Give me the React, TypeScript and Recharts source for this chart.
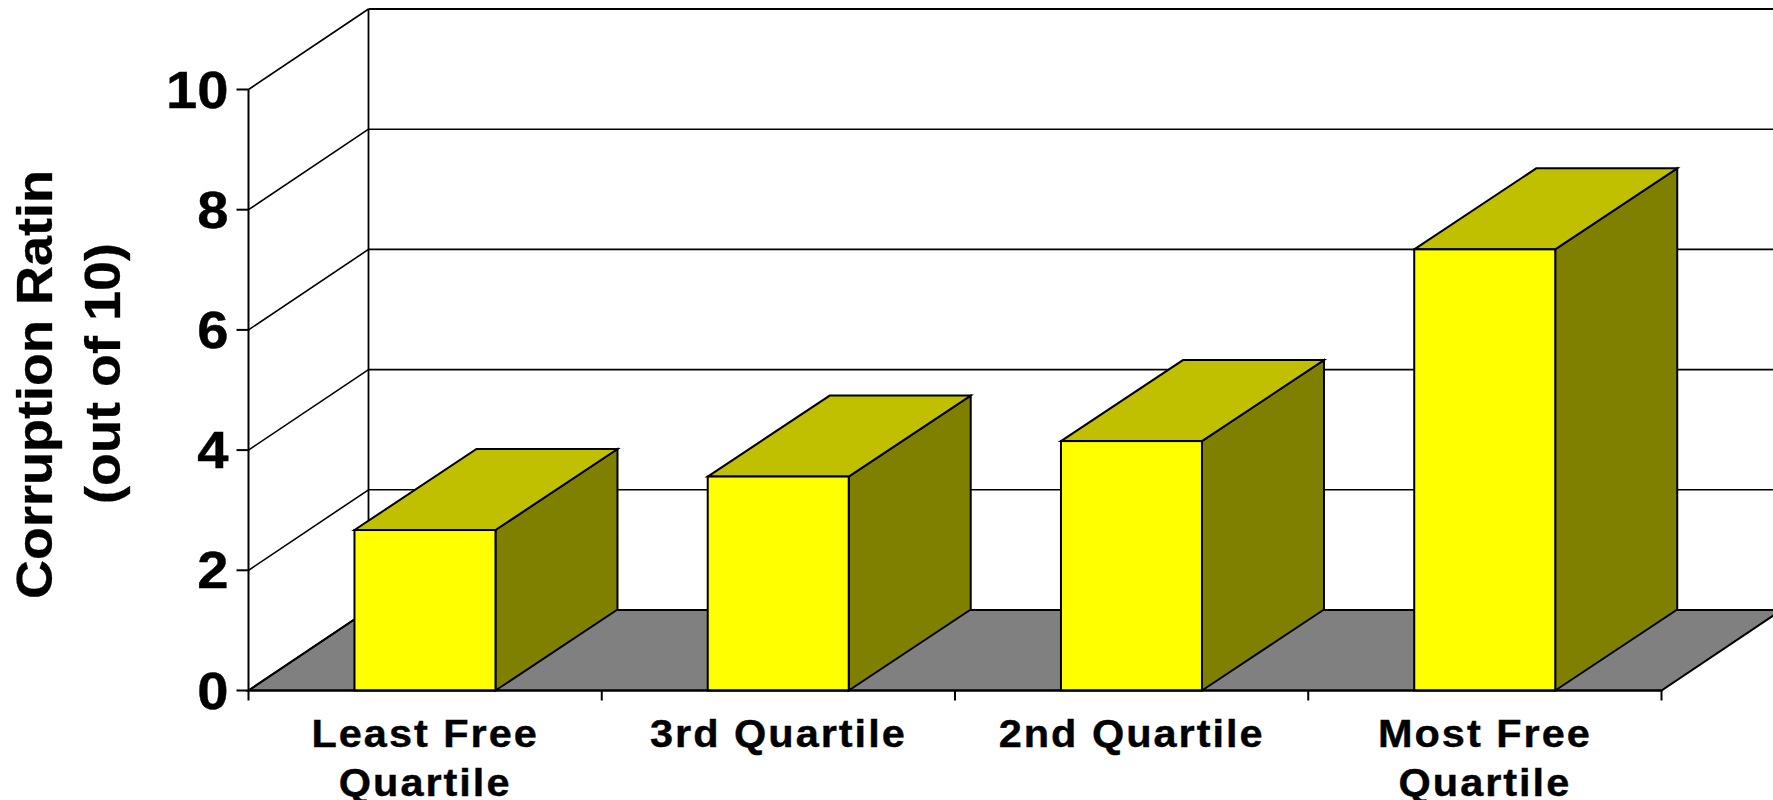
import React from 'react';
import { BarChart, Bar, XAxis, YAxis, CartesianGrid } from 'recharts';

const categories = ['Least Free|Quartile', '3rd Quartile', '2nd Quartile', 'Most Free|Quartile'];
const ratings = [2.67, 3.56, 4.15, 7.34];
const yTicks = [0, 2, 4, 6, 8, 10];
const titleLines = ['Corruption Ratin', '(out of 10)'];

const rows = categories.map((category, i) => ({ category, rating: ratings[i] }));

const FONT = '"Liberation Sans", Arial, sans-serif';
const WIDTH = 1773;
const HEIGHT = 800;
const DEPTH_X = 120;
const DEPTH_Y = -80.5;
const BAR_DEPTH_X = 122;
const BAR_DEPTH_Y = -81;

// Back wall, side wall and floor of the 3D frame, hung off each horizontal grid line.
function gridLine(props: any) {
  const { x1, x2, y1, index, y: top, height } = props;
  const bottom = top + height;
  const backX = x1 + DEPTH_X;
  const backY = y1 + DEPTH_Y;
  const isFloor = Math.abs(y1 - bottom) < 0.5;
  const isTop = Math.abs(y1 - top) < 0.5;
  const heavy = isFloor || isTop ? 2 : 1.6;
  return (
    <g key={`wall-${index}`}>
      {isFloor && (
        <polygon
          points={`${x1},${y1} ${backX},${backY} ${x2 + DEPTH_X},${backY} ${x2},${y1}`}
          fill="#808080"
          stroke="#000"
          strokeWidth={2}
        />
      )}
      {isTop && (
        <line x1={backX} y1={backY} x2={backX} y2={bottom + DEPTH_Y} stroke="#000" strokeWidth={1.8} />
      )}
      <line x1={x1} y1={y1} x2={backX} y2={backY} stroke="#000" strokeWidth={1.6} />
      <line x1={backX} y1={backY} x2={x2 + DEPTH_X + 200} y2={backY} stroke="#000" strokeWidth={heavy} />
    </g>
  );
}

// A bar as a box: front face from the scale, with top and side faces receding.
function Box(props: any) {
  const { x, y, width, height } = props;
  const r = x + width;
  const b = y + height;
  const dx = BAR_DEPTH_X;
  const dy = BAR_DEPTH_Y;
  const edge = { stroke: '#000', strokeWidth: 2, strokeLinejoin: 'miter' as const };
  return (
    <g>
      <polygon points={`${r},${y} ${r + dx},${y + dy} ${r + dx},${b + dy} ${r},${b}`} fill="#808000" {...edge} />
      <polygon points={`${x},${y} ${x + dx},${y + dy} ${r + dx},${y + dy} ${r},${y}`} fill="#c0c000" {...edge} />
      <rect x={x} y={y} width={width} height={height} fill="#ffff00" {...edge} />
    </g>
  );
}

// Category label, two lines where the name carries a break, with tick marks on the band edges.
function CategoryTick(props: any) {
  const { x, y, payload, width, visibleTicksCount, index } = props;
  const band = width / visibleTicksCount;
  const axisY = y - 8;
  const lines = String(payload.value).split('|');
  const mark = (at: number) => (
    <line x1={at} y1={axisY} x2={at} y2={axisY + 10} stroke="#000" strokeWidth={2} />
  );
  return (
    <g>
      {mark(x - band / 2)}
      {index === visibleTicksCount - 1 && mark(x + band / 2)}
      {lines.map((line: string, i: number) => (
        <text
          key={line}
          transform={`translate(${x} ${axisY + 56 + i * 49}) scale(1.05 1)`}
          textAnchor="middle"
          fontFamily={FONT}
          fontWeight={700}
          fontSize={39.5}
          letterSpacing={1.9}
          stroke="#000"
          strokeWidth={0.4}
          fill="#000"
        >
          {line}
        </text>
      ))}
    </g>
  );
}

function ValueTick(props: any) {
  const { x, y, payload } = props;
  return (
    <text
      transform={`translate(${x - 6} ${y + 18}) scale(1.08 1)`}
      textAnchor="end"
      fontFamily={FONT}
      fontWeight={700}
      fontSize={52}
      stroke="#000"
      strokeWidth={0.4}
      fill="#000"
    >
      {payload.value}
    </text>
  );
}

function AxisTitle() {
  const style = { fontFamily: FONT, fontWeight: 700, fontSize: 50, fill: '#000', stroke: '#000', strokeWidth: 0.3 };
  return (
    <g>
      <text transform="translate(52 384.5) rotate(-90) scale(1.08 1)" textAnchor="middle" style={style}>
        {titleLines[0]}
      </text>
      <text transform="translate(120 373.5) rotate(-90) scale(1.08 1)" textAnchor="middle" style={style}>
        {titleLines[1]}
      </text>
    </g>
  );
}

export default function App() {
  return (
    <div style={{ position: 'absolute', left: 0, top: 0, width: WIDTH, height: HEIGHT, background: '#fff' }}>
      <BarChart
        width={WIDTH}
        height={HEIGHT}
        data={rows}
        margin={{ top: 89.5, right: 111.5, bottom: 0, left: 0 }}
        barCategoryGap="30%"
      >
        <CartesianGrid horizontal={gridLine} vertical={false} />
        <XAxis
          dataKey="category"
          interval={0}
          tick={CategoryTick}
          tickLine={false}
          height={109.5}
          stroke="#000"
          strokeWidth={2}
        />
        <YAxis
          domain={[0, 10]}
          ticks={yTicks}
          width={248.5}
          tick={ValueTick}
          tickSize={12}
          stroke="#000"
          strokeWidth={2}
          tickLine={{ stroke: '#000', strokeWidth: 2 }}
          label={{ content: AxisTitle }}
        />
        <Bar dataKey="rating" shape={Box} isAnimationActive={false} />
      </BarChart>
    </div>
  );
}
